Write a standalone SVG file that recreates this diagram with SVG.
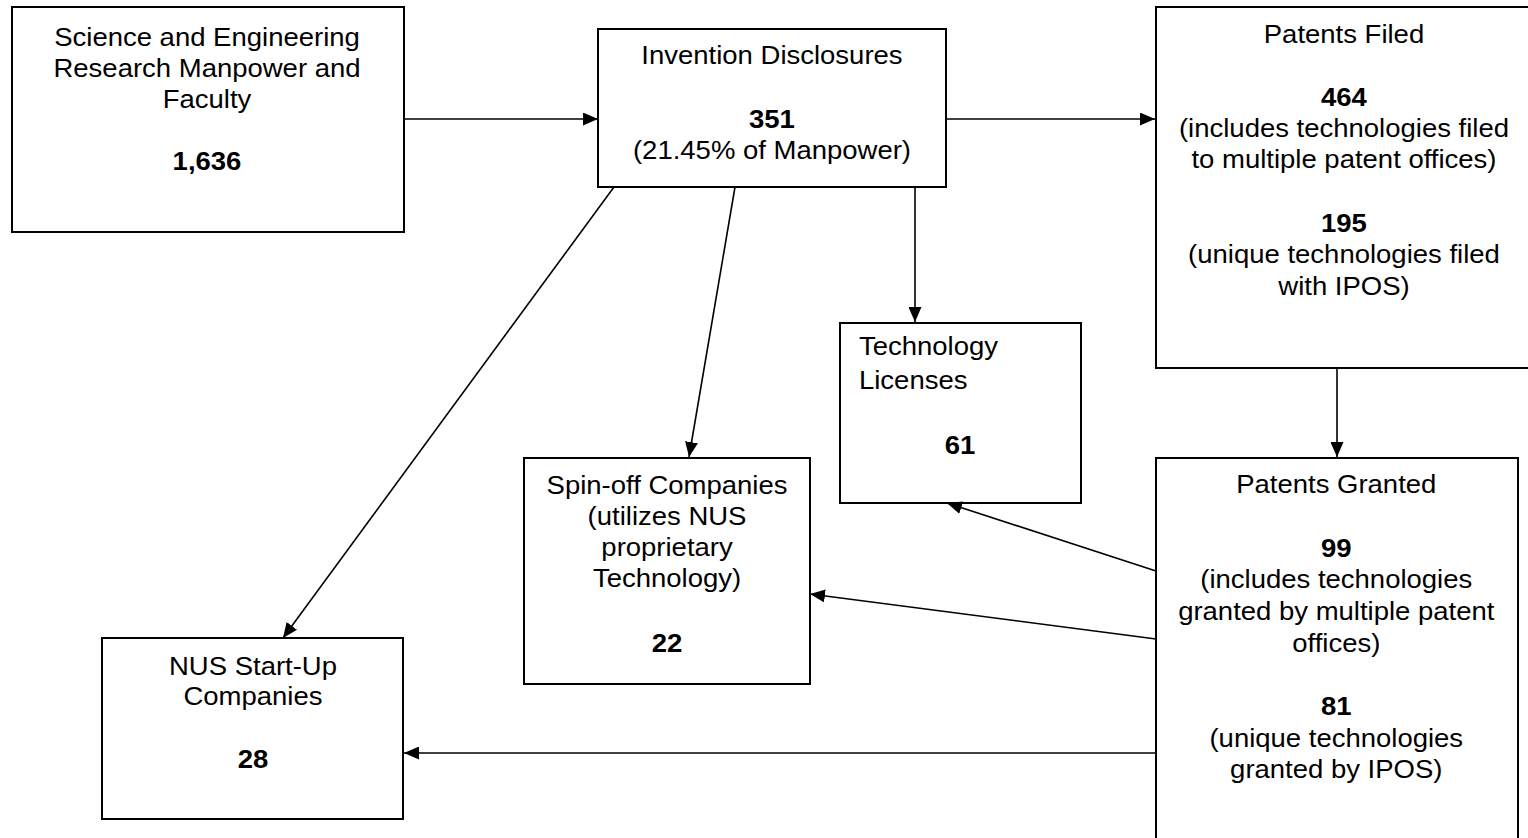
<svg xmlns="http://www.w3.org/2000/svg" width="1528" height="838" viewBox="0 0 1528 838">
<style>
.box{fill:#fff;stroke:#000;stroke-width:2}
.t{font-family:"Liberation Sans",Arial,sans-serif;font-size:25px;fill:#000;text-anchor:middle}
.b{font-weight:bold}
.l{text-anchor:start}
.c line{stroke:#000;stroke-width:1.6;marker-end:url(#ah)}
</style>
<defs>
<marker id="ah" markerUnits="userSpaceOnUse" markerWidth="16" markerHeight="13" refX="15" refY="6.5" orient="auto">
<path d="M0,0 L15,6.5 L0,13 z" fill="#000"/>
</marker>
</defs>
<rect width="1528" height="838" fill="#fff"/>
<g id="manpower">
<rect class="box" x="12" y="7" width="392" height="225"/>
<g transform="scale(1.1 1)">
<text class="t" x="188.2" y="46">Science and Engineering</text>
<text class="t" x="188.2" y="77">Research Manpower and</text>
<text class="t" x="188.2" y="108">Faculty</text>
<text class="t b" x="188.2" y="170">1,636</text>
</g>
</g>
<g id="disclosures">
<rect class="box" x="598" y="29" width="348" height="158"/>
<g transform="scale(1.1 1)">
<text class="t" x="701.8" y="64">Invention Disclosures</text>
<text class="t b" x="701.8" y="128">351</text>
<text class="t" x="701.8" y="159">(21.45% of Manpower)</text>
</g>
</g>
<g id="filed">
<rect class="box" x="1156" y="7" width="376" height="361"/>
<g transform="scale(1.1 1)">
<text class="t" x="1221.8" y="43">Patents Filed</text>
<text class="t b" x="1221.8" y="106">464</text>
<text class="t" x="1221.8" y="137">(includes technologies filed</text>
<text class="t" x="1221.8" y="168">to multiple patent offices)</text>
<text class="t b" x="1221.8" y="232">195</text>
<text class="t" x="1221.8" y="263">(unique technologies filed</text>
<text class="t" x="1221.8" y="295">with IPOS)</text>
</g>
</g>
<g id="licenses">
<rect class="box" x="840" y="323" width="241" height="180"/>
<g transform="scale(1.1 1)">
<text class="t l" x="780.9" y="355">Technology</text>
<text class="t l" x="780.9" y="389">Licenses</text>
<text class="t b" x="872.7" y="454">61</text>
</g>
</g>
<g id="granted">
<rect class="box" x="1156" y="458" width="362" height="390"/>
<g transform="scale(1.1 1)">
<text class="t" x="1214.8" y="493">Patents Granted</text>
<text class="t b" x="1214.8" y="557">99</text>
<text class="t" x="1214.8" y="588">(includes technologies</text>
<text class="t" x="1214.8" y="620">granted by multiple patent</text>
<text class="t" x="1214.8" y="652">offices)</text>
<text class="t b" x="1214.8" y="715">81</text>
<text class="t" x="1214.8" y="747">(unique technologies</text>
<text class="t" x="1214.8" y="778">granted by IPOS)</text>
</g>
</g>
<g id="startup">
<rect class="box" x="102" y="638" width="301" height="181"/>
<g transform="scale(1.1 1)">
<text class="t" x="230" y="675">NUS Start-Up</text>
<text class="t" x="230" y="705">Companies</text>
<text class="t b" x="230" y="768">28</text>
</g>
</g>
<g id="spinoff">
<rect class="box" x="524" y="458" width="286" height="226"/>
<g transform="scale(1.1 1)">
<text class="t" x="606.4" y="494">Spin-off Companies</text>
<text class="t" x="606.4" y="525">(utilizes NUS</text>
<text class="t" x="606.4" y="556">proprietary</text>
<text class="t" x="606.4" y="587">Technology)</text>
<text class="t b" x="606.4" y="652">22</text>
</g>
</g>
<g id="connectors" class="c">
<line x1="404" y1="119" x2="598" y2="119"/>
<line x1="946" y1="119" x2="1155" y2="119"/>
<line x1="915" y1="187" x2="915" y2="322"/>
<line x1="735" y1="187" x2="689" y2="457"/>
<line x1="614" y1="187" x2="283" y2="638"/>
<line x1="1337" y1="368" x2="1337" y2="457"/>
<line x1="1156" y1="571" x2="947" y2="503"/>
<line x1="1156" y1="639" x2="810" y2="594"/>
<line x1="1156" y1="753" x2="404" y2="753"/>
</g>
</svg>
